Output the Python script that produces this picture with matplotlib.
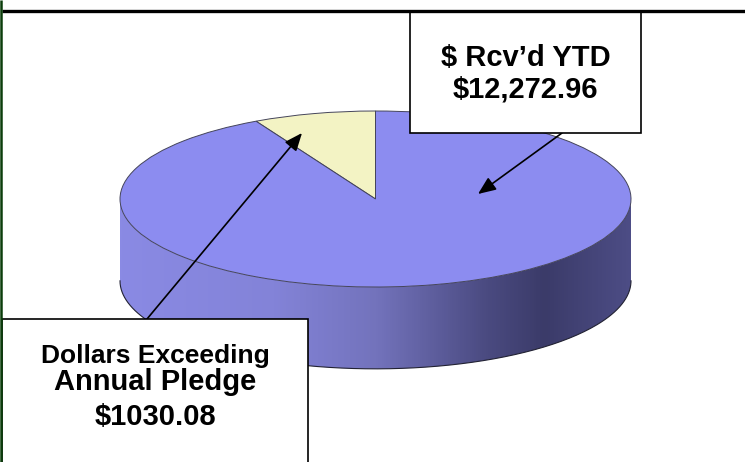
import matplotlib
matplotlib.use("Agg")

import numpy as np
import matplotlib.pyplot as plt
from matplotlib.colors import LinearSegmentedColormap
from matplotlib.patches import Rectangle, Polygon

# ----------------------------------------------------------
# data
# ----------------------------------------------------------
slice_names = ["Dollars Exceeding Annual Pledge", "$ Rcv\u2019d YTD"]
slice_values = [1030.08, 12272.96]
slice_colors = ["#f3f3c4", "#8c8cf0"]

box_rcvd = ["$ Rcv\u2019d YTD", "$12,272.96"]
box_excess = ["Dollars Exceeding", "Annual Pledge", "$1030.08"]

plt.rcParams["font.family"] = ["Liberation Sans", "DejaVu Sans"]

W, H = 745, 462
fig = plt.figure(figsize=(W / 100, H / 100), dpi=100)

# ----------------------------------------------------------
# pie axes (unit circle squashed into an ellipse)
# ----------------------------------------------------------
cx, cy, rx, ry = 375.5, 199.0, 255.5, 88.0   # pixel geometry of top face
depth = 0.93                                  # thickness in y units
xl = (-1.05, 1.05)
yl = (-2.2, 1.1)
left_px = cx + xl[0] * rx
right_px = cx + xl[1] * rx
top_px = cy - yl[1] * ry
bot_px = cy - yl[0] * ry
pax = fig.add_axes([left_px / W, 1 - bot_px / H,
                    (right_px - left_px) / W, (bot_px - top_px) / H])

wedges, _ = pax.pie(slice_values, colors=slice_colors, startangle=90,
                    counterclock=True, radius=1,
                    wedgeprops=dict(edgecolor="#44445a", linewidth=0.7))
for w in wedges:
    w.set_zorder(3)
pax.set_aspect("auto")
pax.set_xlim(*xl)
pax.set_ylim(*yl)
pax.axis("off")

# side of the cylinder (front half) with a left-to-right shade
t = np.linspace(np.pi, 2 * np.pi, 200)
top_edge = np.column_stack([np.cos(t), np.sin(t)])
bot_edge = np.column_stack([np.cos(t[::-1]), np.sin(t[::-1]) - depth])
side = Polygon(np.vstack([top_edge, bot_edge]), closed=True,
               facecolor="none", edgecolor="none")
pax.add_patch(side)

side_cmap = LinearSegmentedColormap.from_list(
    "side",
    [(0.0, "#8a8ae4"), (0.3, "#8383d8"), (0.5, "#7373bc"),
     (0.72, "#4a4a80"), (0.83, "#3b3b69"), (1.0, "#4d4d86")])
grad = np.linspace(0, 1, 256).reshape(1, -1)
im = pax.imshow(grad, cmap=side_cmap, aspect="auto",
                extent=[-1, 1, -1 - depth, 0], zorder=1)
im.set_clip_path(side)
pax.plot(np.cos(t), np.sin(t) - depth, color="#222233", lw=0.8, zorder=2)

# ----------------------------------------------------------
# overlay axes in pixel units: frame, boxes, arrows
# ----------------------------------------------------------
ax = fig.add_axes([0, 0, 1, 1], zorder=5)
ax.set_xlim(0, W)
ax.set_ylim(H, 0)
ax.axis("off")
ax.patch.set_alpha(0)

# arrows
arrow_kw = dict(arrowstyle="-|>,head_length=0.6,head_width=0.25",
                mutation_scale=18, color="black", lw=1.2,
                shrinkA=0, shrinkB=0)
ax.annotate("", xy=(478, 194), xytext=(562, 133), arrowprops=arrow_kw)
ax.annotate("", xy=(302, 133), xytext=(147, 319), arrowprops=arrow_kw)

# box for received
ax.add_patch(Rectangle((410, 11), 231, 122, facecolor="white",
                       edgecolor="black", lw=1.2, zorder=4))
ax.text(525.5, 66, box_rcvd[0], ha="center", va="baseline",
        fontsize=21, fontweight="bold", zorder=5)
ax.text(525.5, 98, box_rcvd[1], ha="center", va="baseline",
        fontsize=21, fontweight="bold", zorder=5)

# box for excess
ax.add_patch(Rectangle((2, 319), 306, 160, facecolor="white",
                       edgecolor="black", lw=1.2, zorder=4))
ax.text(155, 363, box_excess[0], ha="center", va="baseline",
        fontsize=19, fontweight="bold", zorder=5)
ax.text(155, 390, box_excess[1], ha="center", va="baseline",
        fontsize=21, fontweight="bold", zorder=5)
ax.text(155, 425, box_excess[2], ha="center", va="baseline",
        fontsize=21, fontweight="bold", zorder=5)

# outer frame: black top rule, dark green left rule
ax.plot([2, W], [10.5, 10.5], color="black", lw=2.4,
        solid_capstyle="butt", zorder=6)
ax.plot([1, 1], [0, H], color="#0b3d0b", lw=1.8,
        solid_capstyle="butt", zorder=6)

fig.savefig("out.png", dpi=100)
